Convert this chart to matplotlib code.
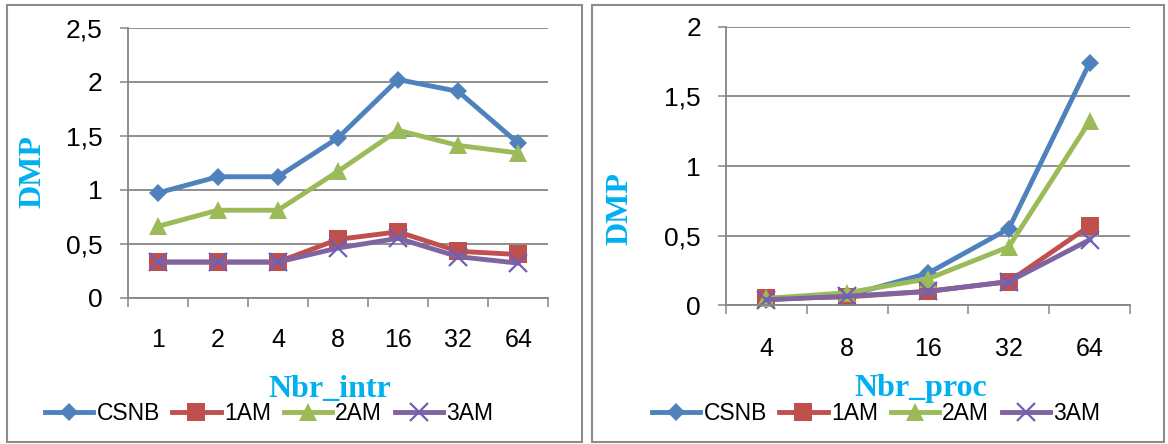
import matplotlib
matplotlib.use("Agg")
import matplotlib.pyplot as plt
from matplotlib.patches import Rectangle
from matplotlib.ticker import FuncFormatter

# ---- data ----
series_names = ["CSNB", "1AM", "2AM", "3AM"]
colors = ["#4F81BD", "#C0504D", "#9BBB59", "#8064A2"]
markers = ["D", "s", "^", "x"]

intr_labels = ["1", "2", "4", "8", "16", "32", "64"]
intr_csnb = [0.97, 1.12, 1.12, 1.48, 2.02, 1.91, 1.43]
intr_1am = [0.33, 0.33, 0.33, 0.54, 0.61, 0.43, 0.40]
intr_2am = [0.66, 0.81, 0.81, 1.17, 1.55, 1.41, 1.34]
intr_3am = [0.33, 0.33, 0.33, 0.46, 0.55, 0.38, 0.32]

proc_labels = ["4", "8", "16", "32", "64"]
proc_csnb = [0.04, 0.07, 0.23, 0.55, 1.74]
proc_1am = [0.05, 0.06, 0.10, 0.17, 0.57]
proc_2am = [0.05, 0.09, 0.19, 0.42, 1.32]
proc_3am = [0.04, 0.065, 0.10, 0.17, 0.47]

W, H = 1168, 444
fig = plt.figure(figsize=(W / 100, H / 100), dpi=100)

GRID = "#868686"
LABEL_C = "#00B0F0"
SANS = "Liberation Sans"
SERIF = "Liberation Serif"


def fx(px):
    return px / W


def fy(py):
    return 1 - py / H


def comma(v, pos):
    return ("%g" % v).replace(".", ",")


def make_panel(rect_px, labels, data, ymax, ystep, xlabel, xlabel_pos, ylabel_pos, legend_pos, xpad):
    x0, x1, ytop, ybot = rect_px
    ax = fig.add_axes([fx(x0), fy(ybot), (x1 - x0) / W, (ybot - ytop) / H])
    n = len(labels)
    xs = list(range(n))
    handles = []
    for vals, name, c, m in zip(data, series_names, colors, markers):
        if m == "x":
            h, = ax.plot(xs, vals, color=c, lw=3.5, marker=m, markersize=13,
                         markeredgewidth=1.6, markeredgecolor="#6F5FB5", label=name,
                         solid_joinstyle="round", clip_on=False)
        else:
            h, = ax.plot(xs, vals, color=c, lw=3.5, marker=m,
                         markersize=(9.5 if m == "D" else 13.5), markeredgewidth=0,
                         label=name, solid_joinstyle="round", clip_on=False)
        handles.append(h)
    ax.set_xlim(-0.5, n - 0.5)
    ax.set_ylim(0, ymax)
    yt = []
    v = 0.0
    while v <= ymax + 1e-9:
        yt.append(round(v, 3))
        v += ystep
    ax.set_yticks(yt)
    ax.yaxis.set_major_formatter(FuncFormatter(comma))
    ax.set_xticks(xs)
    ax.set_xticklabels(labels)
    ax.set_xticks([i - 0.5 for i in range(n + 1)], minor=True)
    ax.tick_params(axis="x", which="major", length=0, pad=xpad, labelsize=18)
    ax.tick_params(axis="x", which="minor", length=6.5, width=1.1, color=GRID, direction="out")
    ax.tick_params(axis="y", which="major", length=6, width=1.1, color=GRID, pad=12, labelsize=19)
    for lab in ax.get_xticklabels() + ax.get_yticklabels():
        lab.set_fontfamily(SANS)
    ax.grid(axis="y", color=GRID, lw=1.3)
    ax.set_axisbelow(True)
    for s in ["top", "right"]:
        ax.spines[s].set_visible(False)
    for s in ["left", "bottom"]:
        ax.spines[s].set_color(GRID)
        ax.spines[s].set_linewidth(1.3)
    ax.patch.set_alpha(0)
    fig.text(fx(xlabel_pos[0]), fy(xlabel_pos[1]), xlabel, ha="center", va="baseline",
             fontsize=23, fontweight="bold", family=SERIF, color=LABEL_C)
    fig.text(fx(ylabel_pos[0]), fy(ylabel_pos[1]), "DMP", ha="center", va="center",
             rotation=90, fontsize=23, fontweight="bold", family=SERIF, color=LABEL_C)
    ax.legend(handles=handles, loc="center", bbox_to_anchor=(fx(legend_pos[0]), fy(legend_pos[1])),
              bbox_transform=fig.transFigure, ncol=4, frameon=False,
              handlelength=2.1, handletextpad=0.15, columnspacing=0.55,
              prop={"family": SANS, "size": 16.5}, borderaxespad=0)
    return ax


make_panel((127.7, 548.3, 27.7, 297.7), intr_labels,
           [intr_csnb, intr_1am, intr_2am, intr_3am], 2.5, 0.5, "Nbr_intr",
           (330, 396.5), (33, 171.7), (269, 413.3), 22)
make_panel((726, 1130, 26.7, 305.3), proc_labels,
           [proc_csnb, proc_1am, proc_2am, proc_3am], 2.0, 0.5, "Nbr_proc",
           (921, 396), (620, 209), (876, 413.3), 23)

for (a, b) in [(7, 582), (592, 1164)]:
    fig.patches.append(Rectangle((fx(a), fy(442)), (b - a) / W, (442 - 5) / H,
                                 transform=fig.transFigure, fill=False,
                                 edgecolor="#8C8C8C", lw=1.5))

fig.savefig("out.png", dpi=100)
